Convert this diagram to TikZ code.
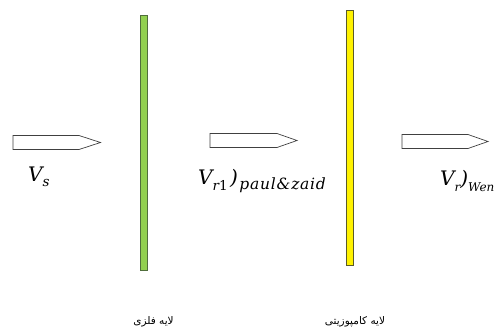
\documentclass[tikz,border=0pt]{standalone}
\usepackage{fontspec}
\newfontfamily\arabicfont[Script=Arabic]{DejaVu Sans}
\newfontfamily\vfont{DejaVu Serif}
\newfontfamily\vfontwide[LetterSpace=5]{DejaVu Serif}
\newcommand{\vsub}[1]{\raisebox{-0.28em}{\fontsize{13.5}{15}\selectfont #1}}
\newcommand{\vsubbig}[1]{\raisebox{-0.24em}{\fontsize{15.5}{17}\selectfont #1}}
\newcommand{\vsubsmall}[1]{\raisebox{-0.3em}{\fontsize{12}{14}\selectfont #1}}
\TeXXeTstate=1
\begin{document}
\begin{tikzpicture}[x=1pt,y=-1pt,
  barline/.style={line width=1pt},
  pointer/.style={draw=black!75,line width=0.7pt,fill=white},
  vlabel/.style={font=\vfont\itshape\fontsize{20}{22}\selectfont,inner sep=0pt},
  alabel/.style={font=\arabicfont\fontsize{10.5}{12}\selectfont,inner sep=0pt}]
\useasboundingbox (0,0) rectangle (496,332);
% layers
\filldraw[barline,fill={rgb,255:red,146;green,208;blue,80},draw={rgb,255:red,80;green,110;blue,60}] (140.5,15) rectangle (147,270);
\filldraw[barline,fill=yellow,draw={rgb,255:red,90;green,90;blue,40}] (346.5,10) rectangle (353,265);
% pointers
\draw[pointer] (13,135.5) -- (79,135.5) -- (100.5,142.5) -- (79,149.5) -- (13,149.5) -- cycle;
\draw[pointer] (210,133.5) -- (277,133.5) -- (297,140.5) -- (277,147.5) -- (210,147.5) -- cycle;
\draw[pointer] (402,134.5) -- (468,134.5) -- (488,141.5) -- (468,148.5) -- (402,148.5) -- cycle;
% labels
\node[vlabel,anchor=west] (vs) at (28,177) {V\vsub{s}};
\node[vlabel,anchor=west] (vr1) at (198,181) {V\vsub{r\upshape 1}\kern2.5pt)\kern1.5pt\vsubbig{\vfontwide\itshape paul\&zaid}};
\node[vlabel,anchor=west] (vr) at (440,181) {V\vsubsmall{r})\vsubsmall{Wen}};
\node[alabel] (metal) at (153.5,322) {\beginR لایه فلزی\endR};
\node[alabel] (comp) at (355,322) {\beginR لایه کامپوزیتی\endR};
\end{tikzpicture}
\end{document}
